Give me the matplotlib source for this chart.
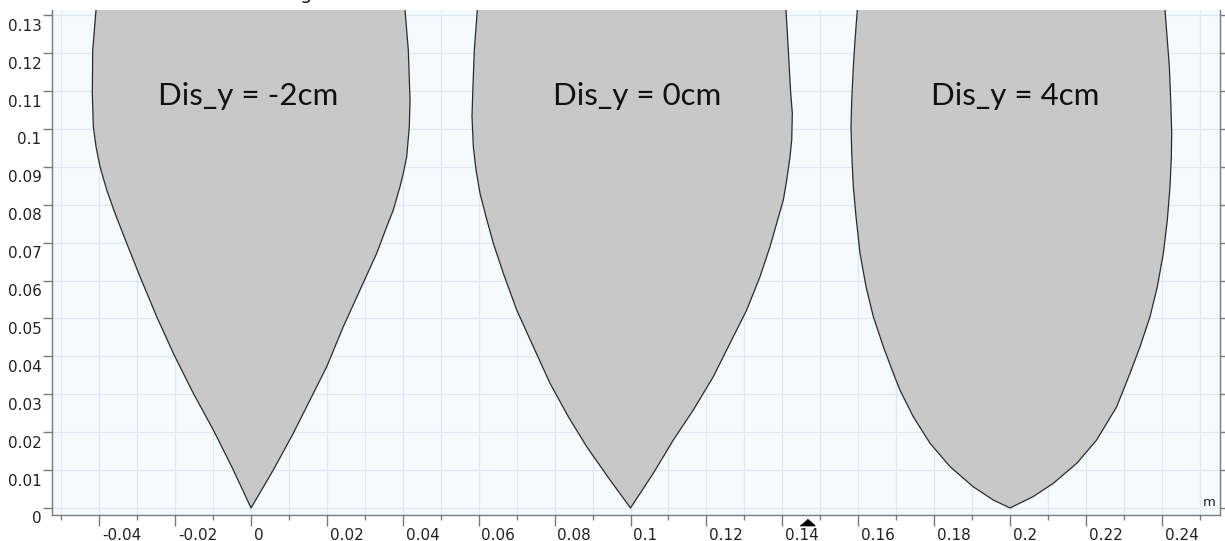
import matplotlib
matplotlib.use("Agg")
import matplotlib.pyplot as plt
import matplotlib.transforms as mtransforms

plt.rcParams["font.family"] = ["DejaVu Sans"]

# ---- data (outline points, tip -> top) ----
shape1_left_x = [0.0, -0.00466, -0.00993, -0.01520, -0.02047, -0.02485, -0.02925, -0.03275, -0.03584,
                 -0.03802, -0.03979, -0.04084, -0.04155, -0.04182, -0.04171, -0.04084, -0.0406]
shape1_left_y = [0.0, 0.01003, 0.02058, 0.03026, 0.04082, 0.05048, 0.06103, 0.06984, 0.07776,
                 0.08390, 0.09005, 0.09533, 0.10061, 0.10942, 0.12084, 0.13140, 0.135]
shape1_right_x = [0.0, 0.00588, 0.01115, 0.01555, 0.01995, 0.02432, 0.02872, 0.03312, 0.03576, 0.03750,
                  0.03926, 0.04013, 0.04103, 0.04171, 0.04190, 0.04145, 0.04058, 0.0403]
shape1_right_y = [0.0, 0.01003, 0.01971, 0.02850, 0.03728, 0.04784, 0.05752, 0.06720, 0.07422, 0.07863,
                  0.08478, 0.08831, 0.09269, 0.10061, 0.10765, 0.12084, 0.13140, 0.135]

shape2_left_x = [0.1, 0.09460, 0.08846, 0.08361, 0.07879, 0.07439, 0.07001, 0.06648, 0.06385, 0.06192,
                 0.06034, 0.05929, 0.05858, 0.05823, 0.05842, 0.05884, 0.05963, 0.0599]
shape2_left_y = [0.0, 0.00739, 0.01617, 0.02409, 0.03290, 0.04256, 0.05224, 0.06193, 0.06984, 0.07686,
                 0.08303, 0.08918, 0.09533, 0.10325, 0.10942, 0.12084, 0.13140, 0.135]
shape2_right_x = [0.1, 0.10601, 0.11128, 0.11655, 0.12182, 0.12622, 0.13062, 0.13412, 0.13676, 0.13852,
                  0.14027, 0.14116, 0.14203, 0.14248, 0.14264, 0.14221, 0.14158, 0.14097, 0.1408]
shape2_right_y = [0.0, 0.00916, 0.01794, 0.02586, 0.03464, 0.04346, 0.05224, 0.06103, 0.06894, 0.07512,
                  0.08127, 0.08654, 0.09269, 0.09710, 0.10414, 0.10942, 0.12084, 0.13140, 0.135]

shape3_left_x = [0.2, 0.1956, 0.1903, 0.1842, 0.1789, 0.1745, 0.1710, 0.16925, 0.16662, 0.16398, 0.16206,
                 0.16047, 0.15942, 0.15871, 0.15829, 0.15810, 0.15829, 0.15871, 0.15916, 0.15976, 0.1599]
shape3_left_y = [0.0, 0.0021, 0.0056, 0.0109, 0.0171, 0.0241, 0.0311, 0.03554, 0.04256, 0.05048, 0.05839,
                 0.06720, 0.07686, 0.08478, 0.09359, 0.10061, 0.10765, 0.11644, 0.12348, 0.13140, 0.135]
shape3_right_x = [0.2, 0.2061, 0.2114, 0.2176, 0.2228, 0.2281, 0.23162, 0.23426, 0.23689, 0.23882, 0.24040,
                  0.24145, 0.24216, 0.24251, 0.24261, 0.24234, 0.24198, 0.24145, 0.24084, 0.2407]
shape3_right_y = [0.0, 0.0030, 0.0065, 0.0118, 0.0179, 0.0267, 0.03554, 0.04256, 0.05048, 0.05839, 0.06720,
                  0.07599, 0.08478, 0.09269, 0.09887, 0.10765, 0.11644, 0.12348, 0.13140, 0.135]

labels = ["Dis_y = -2cm", "Dis_y = 0cm", "Dis_y = 4cm"]
label_x = [-0.0008, 0.1017, 0.2013]
label_y = [0.1087, 0.1087, 0.1087]

x_major = [-0.04, -0.02, 0.0, 0.02, 0.04, 0.06, 0.08, 0.1, 0.12, 0.14, 0.16, 0.18, 0.2, 0.22, 0.24]
x_major_labels = ["-0.04", "-0.02", "0", "0.02", "0.04", "0.06", "0.08", "0.1", "0.12", "0.14",
                  "0.16", "0.18", "0.2", "0.22", "0.24"]
x_minor = [-0.05, -0.03, -0.01, 0.01, 0.03, 0.05, 0.07, 0.09, 0.11, 0.13, 0.15, 0.17, 0.19, 0.21, 0.23, 0.25]
y_major = [0.0, 0.01, 0.02, 0.03, 0.04, 0.05, 0.06, 0.07, 0.08, 0.09, 0.1, 0.11, 0.12, 0.13]
y_major_labels = ["0", "0.01", "0.02", "0.03", "0.04", "0.05", "0.06", "0.07", "0.08", "0.09",
                  "0.1", "0.11", "0.12", "0.13"]
marker_x = 0.1465

# ---- figure ----
W, H, DPI = 1225, 541, 100
fig = plt.figure(figsize=(W / DPI, H / DPI), dpi=DPI)
fig.patch.set_facecolor("white")
ax = fig.add_axes([52 / W, 26 / H, (1219.5 - 52) / W, (515 - 10) / H])
ax.set_xlim(-0.05244, 0.25520)
ax.set_ylim(-0.00185, 0.1314)
ax.set_facecolor("#f5faff")
ax.set_axisbelow(True)

shapes = [
    (shape1_left_x, shape1_left_y, shape1_right_x, shape1_right_y),
    (shape2_left_x, shape2_left_y, shape2_right_x, shape2_right_y),
    (shape3_left_x, shape3_left_y, shape3_right_x, shape3_right_y),
]
for lx, ly, rx, ry in shapes:
    px = list(lx[::-1]) + list(rx[1:])
    py = list(ly[::-1]) + list(ry[1:])
    ax.fill(px, py, facecolor="#c8c8c8", edgecolor="#2b2b2b", linewidth=0.9,
            joinstyle="round", zorder=2)

for t, x, y in zip(labels, label_x, label_y):
    ax.text(x, y, t, ha="center", va="center", fontsize=22.5, family="Lato", color="#111111", zorder=3)

# ticks
ax.set_xticks(x_major)
ax.set_xticklabels(x_major_labels)
ax.set_xticks(x_minor, minor=True)
ax.set_yticks(y_major)
ax.set_yticklabels(y_major_labels)

grid_c = "#dde8f3"
ax.grid(True, which="both", axis="x", color=grid_c, linewidth=0.9)
ax.grid(True, which="major", axis="y", color=grid_c, linewidth=0.9)

spine_c = "#7a7a7a"
for s in ["left", "right", "bottom"]:
    ax.spines[s].set_color(spine_c)
    ax.spines[s].set_linewidth(1.0)
ax.spines["top"].set_visible(False)

ax.tick_params(axis="x", which="major", direction="out", length=8, width=1, color=spine_c,
               labelsize=11, pad=1, labelcolor="#222222")
ax.tick_params(axis="x", which="minor", direction="out", length=3.6, width=1, color=spine_c)
ax.tick_params(axis="y", which="major", direction="out", length=6.5, width=1, color=spine_c,
               labelsize=11, pad=1, labelcolor="#222222", right=True, labelright=False)

dx_off = mtransforms.ScaledTranslation(2 / 72, 0, fig.dpi_scale_trans)
for lbl in ax.get_xticklabels():
    lbl.set_horizontalalignment("left")
    lbl.set_transform(lbl.get_transform() + dx_off)
dy_off = mtransforms.ScaledTranslation(0, -2.5 / 72, fig.dpi_scale_trans)
for lbl in ax.get_yticklabels():
    lbl.set_verticalalignment("top")
    lbl.set_transform(lbl.get_transform() + dy_off)

# origin/pointer marker below the x axis
blend = mtransforms.blended_transform_factory(ax.transData, ax.transAxes)
tri = [(-1, -0.43), (1, -0.43), (0, 0.43)]
ax.plot([marker_x], [-7 / 505], marker=tri, markersize=10.5, color="black",
        transform=blend, clip_on=False, linestyle="none")

# unit label
ax.text(0.9965, 0.012, "m", transform=ax.transAxes, ha="right", va="bottom", fontsize=9.5, color="#222222")

# cut-off title fragment at the very top (only its descender is visible in the reference)
fig.text(306 / W, 1 + 1 / H, "g", ha="center", va="baseline", fontsize=14, color="#222222")

fig.savefig("out.png", dpi=DPI)
